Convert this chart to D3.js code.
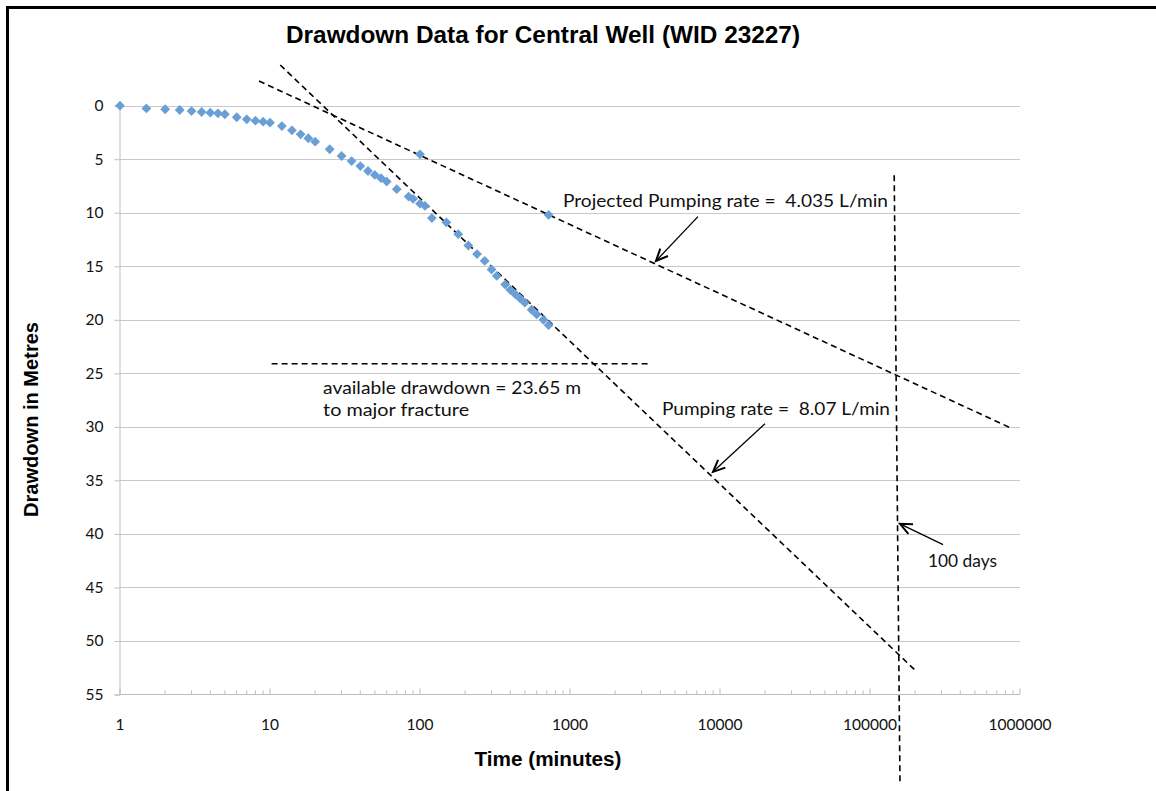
<!DOCTYPE html>
<html>
<head>
<meta charset="utf-8">
<script src="https://cdn.jsdelivr.net/npm/d3@7"></script>
<style>
  html, body { margin: 0; padding: 0; background: #fff; }
  svg { display: block; }
</style>
</head>
<body>
<svg id="chart" width="1156" height="791"></svg>
<script>
// ---------------- DATA ----------------
const chartTitle = "Drawdown Data for Central Well (WID 23227)";
const xAxisTitle = "Time (minutes)";
const yAxisTitle = "Drawdown in Metres";

// measured drawdown series
const timeMin = [1,1.5,2,2.5,3,3.5,4,4.5,5,6,7,8,9,10,12,14,16,18,20,25,30,35,40,45,50,55,60,70,84,90,100,108,120,150,180,210,240,270,300,325,370,400,430,465,500,555,600,665,720];
const drawdownM = [0,0.25,0.33,0.4,0.5,0.59,0.65,0.71,0.8,1.08,1.27,1.4,1.49,1.59,1.9,2.3,2.67,3.04,3.36,4.07,4.7,5.17,5.64,6.1,6.47,6.77,7.09,7.8,8.49,8.7,9.15,9.36,10.5,10.9,12.0,13.06,13.86,14.5,15.3,15.9,16.7,17.2,17.6,18.0,18.4,19.06,19.5,20.0,20.5];

// projected series (reduced pumping rate)
const projTime = [100, 720];
const projDrawdown = [4.54, 10.2];

// trend / reference lines (time, drawdown endpoints)
const steepLineTime = [11.7, 205800];
const steepLineDrawdown = [-3.8, 52.9];
const shallowLineTime = [8.45, 858000];
const shallowLineDrawdown = [-2.3, 30.07];
const availLineTime = [10.25, 3310];
const availLineDrawdown = [24.1, 24.1];
const hundredDaysTime = [145000, 158500];
const hundredDaysDrawdown = [6.5, 63.4];

// tick labels
const xTickValues = [1, 10, 100, 1000, 10000, 100000, 1000000];
const yTickValues = [0, 5, 10, 15, 20, 25, 30, 35, 40, 45, 50, 55];

// annotations: text and anchor (time, drawdown)
const annoTexts = ["Projected Pumping rate =  4.035 L/min", "Pumping rate =  8.07 L/min", "available drawdown = 23.65 m", "to major fracture", "100 days"];
const annoTime = [898, 4105, 22.6, 22.6, 243600];
const annoDrawdown = [9.43, 28.9, 26.9, 29.0, 43.07];

// arrows: tail -> tip (time, drawdown)
const arrowTailTime = [7130, 19950, 306900];
const arrowTailDrawdown = [10.36, 29.7, 41.0];
const arrowTipTime = [3743, 8980, 158500];
const arrowTipDrawdown = [14.5, 34.2, 39.06];

// ---------------- CHART ----------------
const svg = d3.select("#chart");
const W = 1156, H = 791;
const mLeft = 120, mRight = 1020, mTop = 105.7, mBottom = 694.5;

const x = d3.scaleLog().domain([1, 1e6]).range([mLeft, mRight]);
const y = d3.scaleLinear().domain([0, 55]).range([mTop, mBottom]);

// frame (top and left black border)
svg.append("line").attr("x1", 7).attr("x2", W).attr("y1", 7.5).attr("y2", 7.5)
  .attr("stroke", "#000").attr("stroke-width", 3);
svg.append("line").attr("x1", 7.5).attr("x2", 7.5).attr("y1", 6).attr("y2", H)
  .attr("stroke", "#000").attr("stroke-width", 3);

// gridlines
svg.append("g").selectAll("line").data(yTickValues.filter(v => v !== 55)).join("line")
  .attr("x1", mLeft).attr("x2", mRight)
  .attr("y1", d => Math.round(y(d)) + 0.5).attr("y2", d => Math.round(y(d)) + 0.5)
  .attr("stroke", "#c8c8c8").attr("stroke-width", 1);

// y axis
const yAxis = d3.axisLeft(y).tickValues(yTickValues).tickSize(5).tickPadding(11).tickFormat(d3.format("d"));
const gy = svg.append("g").attr("transform", `translate(${mLeft - 0.5},0)`).call(yAxis);
gy.select(".domain").attr("stroke", "#bdbdbd");
gy.selectAll(".tick line").attr("stroke", "#bdbdbd");
gy.selectAll(".tick text").attr("font-family", "Lato, 'Open Sans', sans-serif").attr("font-size", 15.5).attr("fill", "#111");

// x axis: major ticks labelled, minor ticks inward
const minorTicks = [];
for (let e = 0; e < 6; e++) for (let m = 2; m <= 9; m++) minorTicks.push(m * Math.pow(10, e));
const gx = svg.append("g").attr("transform", `translate(0,${mBottom})`);
gx.append("line").attr("x1", mLeft - 0.5).attr("x2", mRight).attr("y1", 0).attr("y2", 0).attr("stroke", "#bdbdbd");
gx.selectAll(".minor").data(minorTicks).join("line").attr("class", "minor")
  .attr("x1", d => x(d)).attr("x2", d => x(d)).attr("y1", 0).attr("y2", -4)
  .attr("stroke", "#bdbdbd");
gx.selectAll(".major").data(xTickValues).join("line").attr("class", "major")
  .attr("x1", d => x(d)).attr("x2", d => x(d)).attr("y1", 0).attr("y2", -6)
  .attr("stroke", "#bdbdbd");
gx.selectAll(".lab").data(xTickValues).join("text").attr("class", "lab")
  .attr("x", d => x(d)).attr("y", 35)
  .attr("text-anchor", "middle")
  .attr("font-family", "Lato, 'Open Sans', sans-serif").attr("font-size", 15.5).attr("fill", "#111")
  .text(d => String(d));

// dashed lines
const lineGen = d3.line().x(d => x(d[0])).y(d => y(d[1]));
function dashed(ts, ds) {
  svg.append("path").datum(ts.map((t, i) => [t, ds[i]]))
    .attr("d", lineGen).attr("fill", "none").attr("stroke", "#000")
    .attr("stroke-width", 1.6).attr("stroke-dasharray", "6,4");
}
dashed(steepLineTime, steepLineDrawdown);
dashed(shallowLineTime, shallowLineDrawdown);
dashed(availLineTime, availLineDrawdown);
dashed(hundredDaysTime, hundredDaysDrawdown);

// data points (diamonds)
const diamond = d3.symbol().type(d3.symbolSquare).size(48);
const ptColor = "#6a9fd6";
svg.append("g").selectAll("path").data(timeMin.map((t, i) => [t, drawdownM[i]])).join("path")
  .attr("d", diamond)
  .attr("transform", d => `translate(${x(d[0])},${y(d[1])}) rotate(45)`)
  .attr("fill", ptColor);
svg.append("g").selectAll("path").data(projTime.map((t, i) => [t, projDrawdown[i]])).join("path")
  .attr("d", diamond)
  .attr("transform", d => `translate(${x(d[0])},${y(d[1])}) rotate(45)`)
  .attr("fill", ptColor);

// arrows
arrowTipTime.forEach((tt, i) => {
  const x1 = x(arrowTailTime[i]), y1 = y(arrowTailDrawdown[i]);
  const x2 = x(tt), y2 = y(arrowTipDrawdown[i]);
  svg.append("line").attr("x1", x1).attr("y1", y1).attr("x2", x2).attr("y2", y2)
    .attr("stroke", "#000").attr("stroke-width", 1.3);
  const ang = Math.atan2(y1 - y2, x1 - x2);
  const L = 13, a = 0.42;
  const p1 = [x2 + L * Math.cos(ang + a), y2 + L * Math.sin(ang + a)];
  const p2 = [x2 + L * Math.cos(ang - a), y2 + L * Math.sin(ang - a)];
  svg.append("path").attr("d", `M${p1[0]},${p1[1]}L${x2},${y2}L${p2[0]},${p2[1]}`)
    .attr("fill", "none").attr("stroke", "#000").attr("stroke-width", 2)
    .attr("stroke-linejoin", "miter");
});

// annotation texts
const annoWidths = [325, 228, 258, 146, 69];
annoTexts.forEach((txt, i) => {
  svg.append("text").attr("x", x(annoTime[i])).attr("y", y(annoDrawdown[i]))
    .attr("font-family", "Lato, 'Open Sans', sans-serif").attr("font-size", 18)
    .attr("fill", "#111")
    .attr("textLength", annoWidths[i]).attr("lengthAdjust", "spacingAndGlyphs")
    .style("white-space", "pre")
    .text(txt);
});

// titles
svg.append("text").attr("x", 543).attr("y", 43).attr("text-anchor", "middle")
  .attr("font-family", "'Liberation Sans', Arial, sans-serif").attr("font-weight", "bold")
  .attr("font-size", 23).attr("fill", "#000")
  .attr("textLength", 514).attr("lengthAdjust", "spacingAndGlyphs").text(chartTitle);
svg.append("text").attr("x", 548).attr("y", 766).attr("text-anchor", "middle")
  .attr("font-family", "'Liberation Sans', Arial, sans-serif").attr("font-weight", "bold")
  .attr("font-size", 20).attr("fill", "#000")
  .attr("textLength", 147).attr("lengthAdjust", "spacingAndGlyphs").text(xAxisTitle);
svg.append("text").attr("transform", "translate(38,419.5) rotate(-90)").attr("text-anchor", "middle")
  .attr("font-family", "'Liberation Sans', Arial, sans-serif").attr("font-weight", "bold")
  .attr("font-size", 20).attr("fill", "#000")
  .attr("textLength", 195).attr("lengthAdjust", "spacingAndGlyphs").text(yAxisTitle);
</script>
</body>
</html>
